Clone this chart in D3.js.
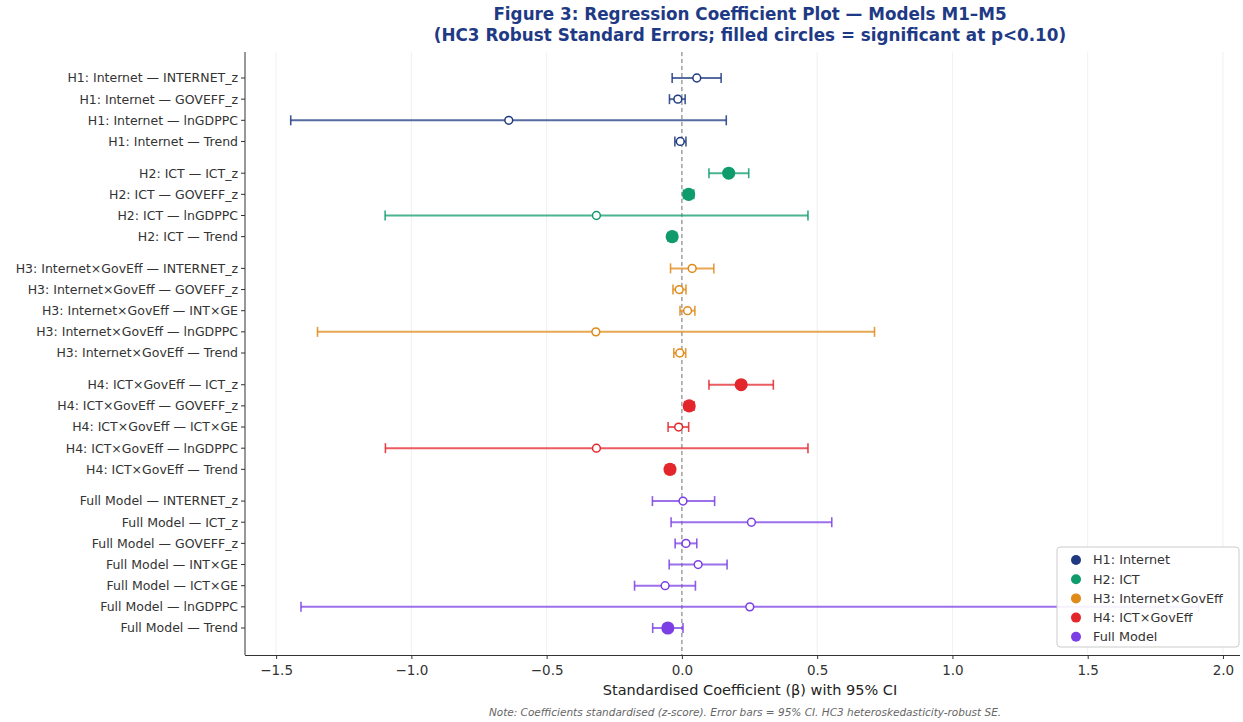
<!DOCTYPE html>
<html><head><meta charset="utf-8">
<script src="https://cdn.jsdelivr.net/npm/d3@7"></script>
<style>
html,body{margin:0;padding:0;background:#fff;}
svg text{font-family:"DejaVu Sans",sans-serif;}
</style></head>
<body>
<svg id="chart" width="1243" height="722"></svg>
<script>
const models = ["H1: Internet", "H2: ICT", "H3: Internet×GovEff", "H4: ICT×GovEff", "Full Model"];
const modelColors = ["#1f3a80", "#0f9b6c", "#e08a18", "#e3262b", "#7b3fe4"];
const terms = [
  ["INTERNET_z", "GOVEFF_z", "lnGDPPC", "Trend"],
  ["ICT_z", "GOVEFF_z", "lnGDPPC", "Trend"],
  ["INTERNET_z", "GOVEFF_z", "INT×GE", "lnGDPPC", "Trend"],
  ["ICT_z", "GOVEFF_z", "ICT×GE", "lnGDPPC", "Trend"],
  ["INTERNET_z", "ICT_z", "GOVEFF_z", "INT×GE", "ICT×GE", "lnGDPPC", "Trend"]
];
const coefs = [
  [0.055, -0.015, -0.640, -0.006],
  [0.173, 0.025, -0.316, -0.036],
  [0.038, -0.010, 0.021, -0.318, -0.008],
  [0.219, 0.027, -0.012, -0.316, -0.044],
  [0.004, 0.257, 0.015, 0.060, -0.062, 0.251, -0.052]
];
const ciLow = [
  [-0.036, -0.046, -1.446, -0.026],
  [0.100, 0.006, -1.097, -0.052],
  [-0.042, -0.033, -0.007, -1.347, -0.030],
  [0.100, 0.010, -0.051, -1.096, -0.060],
  [-0.109, -0.040, -0.025, -0.047, -0.175, -1.408, -0.108]
];
const ciHigh = [
  [0.145, 0.012, 0.164, 0.015],
  [0.247, 0.044, 0.466, -0.020],
  [0.118, 0.015, 0.048, 0.712, 0.014],
  [0.338, 0.045, 0.025, 0.466, -0.028],
  [0.121, 0.554, 0.055, 0.167, 0.050, 1.910, 0.004]
];
const significant = [
  [false, false, false, false],
  [true, true, false, true],
  [false, false, false, false, false],
  [true, true, false, false, true],
  [false, false, false, false, false, false, true]
];
const xTicks = [-1.5, -1.0, -0.5, 0.0, 0.5, 1.0, 1.5, 2.0];

// Build rows with gaps between model groups
const rows = [];
let pos = 0;
models.forEach((m, mi) => {
  if (mi > 0) pos += 0.5;
  terms[mi].forEach((t, ti) => {
    rows.push({model: m, mi, label: `${m} — ${t}`, coef: coefs[mi][ti], lo: ciLow[mi][ti], hi: ciHigh[mi][ti], sig: significant[mi][ti], pos});
    pos += 1;
  });
});
const lastPos = pos - 1;

const svg = d3.select("#chart");
const plot = {left: 245, right: 1240, top: 52, bottom: 655};

const x = d3.scaleLinear().domain([-1.615, 2.063]).range([plot.left, plot.right]);
const y = d3.scaleLinear().domain([0, lastPos]).range([78, 628]);

// Faint vertical grid
svg.append("g").selectAll("line").data(xTicks).join("line")
  .attr("x1", d => x(d)).attr("x2", d => x(d))
  .attr("y1", plot.top).attr("y2", plot.bottom)
  .attr("stroke", "#ececec").attr("stroke-width", 0.8);

// Zero reference line
svg.append("line")
  .attr("x1", x(0)).attr("x2", x(0)).attr("y1", plot.top).attr("y2", plot.bottom)
  .attr("stroke", "#777").attr("stroke-width", 1).attr("stroke-dasharray", "4,3");

// Error bars
const g = svg.append("g");
const rowG = g.selectAll("g.row").data(rows).join("g").attr("class", "row");
rowG.append("line")
  .attr("x1", d => x(d.lo)).attr("x2", d => x(d.hi))
  .attr("y1", d => y(d.pos)).attr("y2", d => y(d.pos))
  .attr("stroke", d => modelColors[d.mi]).attr("stroke-width", 2).attr("stroke-opacity", 0.75);
["lo", "hi"].forEach(k => {
  rowG.append("line")
    .attr("x1", d => x(d[k])).attr("x2", d => x(d[k]))
    .attr("y1", d => y(d.pos) - 5).attr("y2", d => y(d.pos) + 5)
    .attr("stroke", d => modelColors[d.mi]).attr("stroke-width", 1.6).attr("stroke-opacity", 0.85);
});
rowG.append("circle")
  .attr("cx", d => x(d.coef)).attr("cy", d => y(d.pos))
  .attr("r", d => d.sig ? 5.8 : 3.9)
  .attr("fill", d => d.sig ? modelColors[d.mi] : "#fff")
  .attr("stroke", d => modelColors[d.mi]).attr("stroke-width", 1.5);

// Axes
const yAxis = svg.append("g").attr("transform", `translate(${plot.left},0)`);
yAxis.append("line").attr("x1", 0).attr("x2", 0).attr("y1", plot.top).attr("y2", plot.bottom)
  .attr("stroke", "#333").attr("stroke-width", 1);
yAxis.selectAll("g.tick").data(rows).join("g").attr("class", "tick")
  .attr("transform", d => `translate(0,${y(d.pos)})`)
  .call(s => {
    s.append("line").attr("x1", -4).attr("x2", 0).attr("stroke", "#333");
    s.append("text").attr("x", -7).attr("dy", "0.35em").attr("text-anchor", "end")
      .attr("font-size", 12.5).attr("fill", "#333").text(d => d.label);
  });

const xAxis = svg.append("g").attr("transform", `translate(0,${plot.bottom})`)
  .call(d3.axisBottom(x).tickValues(xTicks).tickFormat(d => d3.format(".1f")(d).replace("-", "−")).tickSize(4).tickPadding(6));
xAxis.select(".domain").attr("stroke", "#333").attr("d", `M${plot.left},0.5H${plot.right}`);
xAxis.selectAll(".tick line").attr("stroke", "#333");
xAxis.selectAll(".tick text").attr("font-size", 13.5).attr("fill", "#333").attr("font-family", "DejaVu Sans");

// Labels
const cx = 750;
svg.append("text").attr("x", cx).attr("y", 695).attr("text-anchor", "middle")
  .attr("font-size", 14.5).attr("fill", "#222").text("Standardised Coefficient (β) with 95% CI");
svg.append("text").attr("x", 745).attr("y", 716).attr("text-anchor", "middle")
  .attr("font-size", 10.5).attr("font-style", "italic").attr("fill", "#666")
  .text("Note: Coefficients standardised (z-score). Error bars = 95% CI. HC3 heteroskedasticity-robust SE.");

const title = svg.append("text").attr("text-anchor", "middle").attr("font-weight", "bold")
  .attr("font-size", 16.8).attr("fill", "#1f3a85");
title.append("tspan").attr("x", cx).attr("y", 20).text("Figure 3: Regression Coefficient Plot — Models M1–M5");
title.append("tspan").attr("x", cx).attr("y", 41).text("(HC3 Robust Standard Errors; filled circles = significant at p<0.10)");

// Legend
const lg = svg.append("g").attr("transform", "translate(1057,547)");
lg.append("rect").attr("width", 182).attr("height", 100).attr("rx", 3)
  .attr("fill", "#fff").attr("fill-opacity", 0.9).attr("stroke", "#ccc");
models.forEach((m, i) => {
  const yy = 13 + i * 19.2;
  lg.append("circle").attr("cx", 19).attr("cy", yy).attr("r", 5).attr("fill", modelColors[i]);
  lg.append("text").attr("x", 36).attr("y", yy).attr("dy", "0.35em").attr("font-size", 12.8)
    .attr("fill", "#333").text(m);
});
</script>
</body></html>
